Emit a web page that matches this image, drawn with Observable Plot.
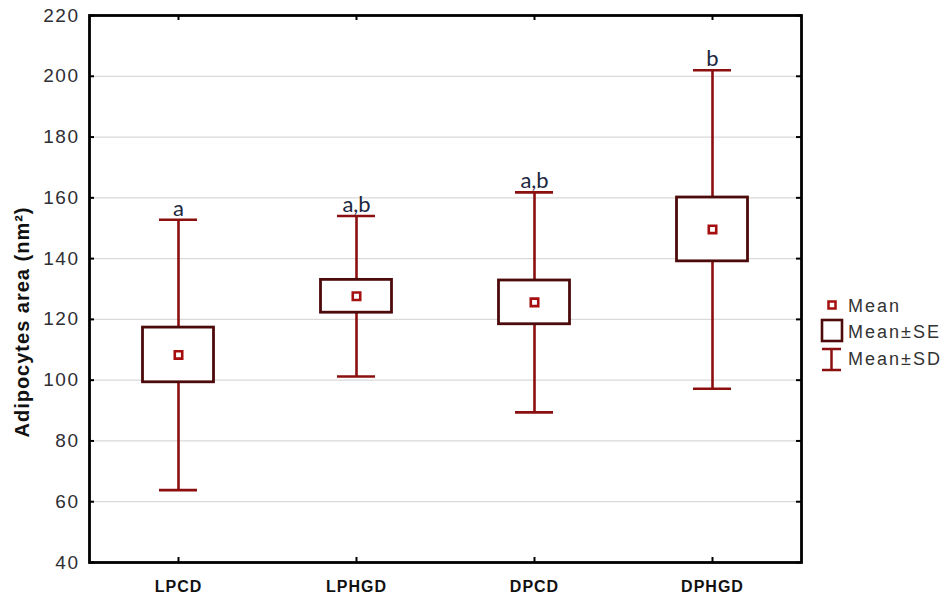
<!DOCTYPE html>
<html>
<head>
<meta charset="utf-8">
<script src="https://cdn.jsdelivr.net/npm/d3@7"></script>
<script src="https://cdn.jsdelivr.net/npm/@observablehq/plot@0.6"></script>
<style>
  html, body { margin: 0; padding: 0; background: #fff; }
  #wrap { position: relative; width: 946px; height: 605px; }
  #legend { position: absolute; left: 800px; top: 280px; }
</style>
</head>
<body>
<div id="wrap"></div>
<script>
// ---- data ----
const groups = ["LPCD", "LPHGD", "DPCD", "DPHGD"];
const means  = [108.3, 127.6, 125.6, 149.6];
const ses    = [9.0, 5.4, 7.2, 10.5];
const sds    = [44.5, 26.4, 36.2, 52.4];
const letters = ["a", "a,b", "a,b", "b"];
const yTicks = [40, 60, 80, 100, 120, 140, 160, 180, 200, 220];
const gridTicks = [60, 80, 100, 120, 140, 160, 180, 200];
const yLabel = "Adipocytes area (nm²)";

const rows = groups.map((g, i) => ({
  group: g, mean: means[i], se: ses[i], sd: sds[i], letter: letters[i]
}));

// ---- layout ----
const W = 946, H = 605;
const mL = 89, mR = 145, mT = 15, mB = 43;
const innerW = W - mL - mR, innerH = H - mT - mB;
const band = innerW / groups.length;
const boxW = 71, capW = 38, tickLen = 5;

const whisker = "#8b0f0f", boxStroke = "#4d0a0a", meanStroke = "#a50f0f";

const chart = Plot.plot({
  width: W, height: H,
  marginLeft: mL, marginRight: mR, marginTop: mT, marginBottom: mB,
  style: { fontFamily: "'Liberation Sans', Arial, sans-serif", background: "#fff" },
  x: { type: "band", domain: groups, padding: 0, label: null },
  y: { domain: [40, 220], label: null },
  marks: [
    Plot.ruleY(gridTicks, { stroke: "#d9d9d9", strokeWidth: 1.2 }),
    // SD whiskers
    Plot.ruleX(rows, { x: "group", y1: d => d.mean - d.sd, y2: d => d.mean + d.sd, stroke: whisker, strokeWidth: 2.6 }),
    Plot.tickY(rows, { x: "group", y: d => d.mean + d.sd, stroke: whisker, strokeWidth: 2.6, insetLeft: (band - capW) / 2, insetRight: (band - capW) / 2 }),
    Plot.tickY(rows, { x: "group", y: d => d.mean - d.sd, stroke: whisker, strokeWidth: 2.6, insetLeft: (band - capW) / 2, insetRight: (band - capW) / 2 }),
    // SE boxes
    Plot.barY(rows, { x: "group", y1: d => d.mean - d.se, y2: d => d.mean + d.se, fill: "white", stroke: boxStroke, strokeWidth: 2.8, insetLeft: (band - boxW) / 2, insetRight: (band - boxW) / 2 }),
    // means
    Plot.dot(rows, { x: "group", y: "mean", symbol: "square", r: 4.2, fill: "white", stroke: meanStroke, strokeWidth: 2.6 }),
    // significance letters
    Plot.text(rows, { x: "group", y: d => d.mean + d.sd, text: "letter", dy: -4, lineAnchor: "bottom", fontSize: 22, fontFamily: "Lato, 'Open Sans', sans-serif", fill: "#1c2740" }),
    // inward ticks
    Plot.tickY(yTicks, { y: d => d, stroke: "black", strokeWidth: 2, insetRight: innerW - tickLen }),
    Plot.tickY(yTicks, { y: d => d, stroke: "black", strokeWidth: 2, insetLeft: innerW - tickLen }),
    Plot.tickX(groups, { x: d => d, stroke: "black", strokeWidth: 2, insetTop: innerH - tickLen }),
    Plot.tickX(groups, { x: d => d, stroke: "black", strokeWidth: 2, insetBottom: innerH - tickLen }),
    // axes
    Plot.axisY(yTicks, { tickSize: 0, tickPadding: 10, fontSize: 19, fill: "#2e2e33", label: null }),
    Plot.axisX({ tickSize: 0, tickPadding: 18, fontSize: 16, fontWeight: "bold", fill: "#111", label: null }),
    Plot.text([yLabel], { text: d => d, frameAnchor: "left", textAnchor: "middle", dx: -67, dy: 33, rotate: -90, fontSize: 20, fontWeight: "bold", fill: "#111" }),
    Plot.frame({ stroke: "black", strokeWidth: 2.8 })
  ]
});

// letter spacing tweaks (SVG text)
chart.querySelectorAll('g[aria-label="y-axis tick label"] text').forEach(t => t.setAttribute("letter-spacing", "1.5"));
chart.querySelectorAll('g[aria-label="x-axis tick label"] text').forEach(t => t.setAttribute("letter-spacing", "1"));
chart.querySelectorAll('g[aria-label="text"] text').forEach(t => { if (t.textContent === yLabel) t.setAttribute("letter-spacing", "1"); });

const wrap = document.getElementById("wrap");
wrap.appendChild(chart);

// legend
const ns = "http://www.w3.org/2000/svg";
const leg = document.createElementNS(ns, "svg");
leg.setAttribute("id", "legend");
leg.setAttribute("width", 146);
leg.setAttribute("height", 100);
leg.innerHTML = `
  <rect x="28.5" y="21.5" width="7" height="7" fill="white" stroke="${meanStroke}" stroke-width="2.5"/>
  <rect x="22" y="40" width="20" height="21" fill="white" stroke="${boxStroke}" stroke-width="2.6"/>
  <line x1="31.5" y1="69" x2="31.5" y2="90" stroke="${whisker}" stroke-width="2.5"/>
  <line x1="22" y1="69" x2="41" y2="69" stroke="${whisker}" stroke-width="2.5"/>
  <line x1="22" y1="90" x2="41" y2="90" stroke="${whisker}" stroke-width="2.5"/>
  <g font-family="'Liberation Sans', Arial, sans-serif" font-size="18" fill="#333" letter-spacing="2">
    <text x="48" y="31.5">Mean</text>
    <text x="48" y="57.5">Mean±SE</text>
    <text x="48" y="84.5">Mean±SD</text>
  </g>`;
wrap.appendChild(leg);
</script>
</body>
</html>
